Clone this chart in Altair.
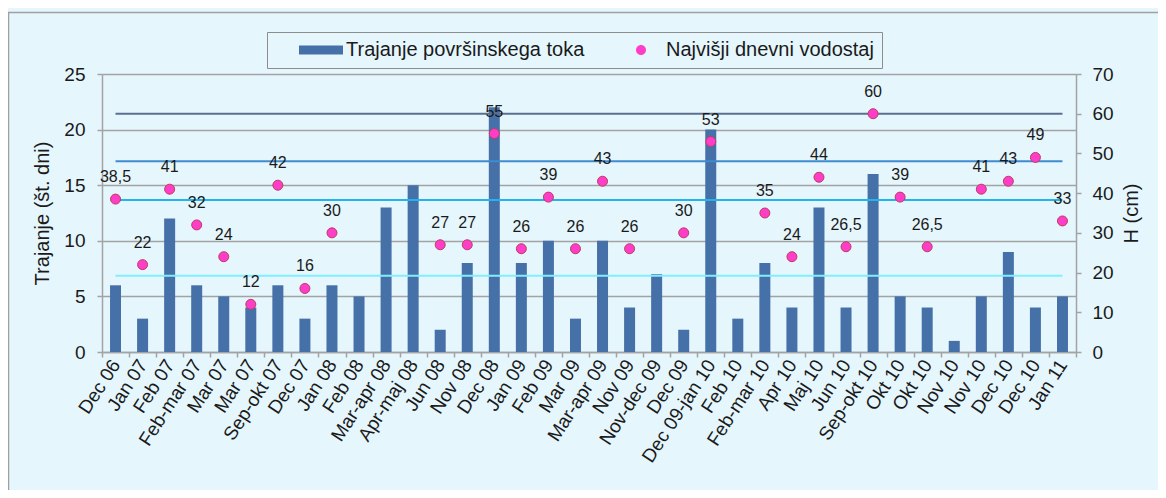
import json
import altair as alt
import pandas as pd

# ---- data ----
labels = ["Dec 06", "Jan 07", "Feb 07", "Feb-mar 07", "Mar 07", "Mar 07", "Sep-okt 07",
          "Dec 07", "Jan 08", "Feb 08", "Mar-apr 08", "Apr-maj 08", "Jun 08", "Nov 08",
          "Dec 08", "Jan 09", "Feb 09", "Mar 09", "Mar-apr 09", "Nov 09", "Nov-dec 09",
          "Dec 09", "Dec 09-jan 10", "Feb 10", "Feb-mar 10", "Apr 10", "Maj 10", "Jun 10",
          "Sep-okt 10", "Okt 10", "Okt 10", "Nov 10", "Nov 10", "Dec 10", "Dec 10", "Jan 11"]
duration = [6, 3, 12, 6, 5, 4, 6, 3, 6, 5, 13, 15, 2, 8, 22, 8, 10, 3, 10, 4, 7, 2, 20, 3,
            8, 4, 13, 4, 16, 5, 4, 1, 5, 9, 4, 5]
water_level = [38.5, 22, 41, 32, 24, 12, 42, 16, 30, None, None, None, 27, 27, 55, 26, 39,
               26, 43, 26, None, 30, 53, None, 35, 24, 44, 26.5, 60, 39, 26.5, None, 41, 43,
               49, 33]
ref_levels = [60, 48, 38.3, 19.2]
ref_colors = ["#5B7090", "#3E8BD0", "#22B4EF", "#80EEFF"]

series_names = ["Trajanje površinskega toka", "Najvišji dnevni vodostaj"]

BAR = "#4671A8"
PINK = "#FF3DC8"
PINK_EDGE = "#B8405E"
BG = "#E5F6FD"
GRID = "#A3A3A3"
TXT = "#1A1A1A"
FONT = "Liberation Sans"

df = pd.DataFrame({"i": list(range(len(labels))), "label": labels,
                   "d": duration, "h": water_level})
df["series"] = series_names[1]

ref_rows = []
for k, (lv, col) in enumerate(zip(ref_levels, ref_colors)):
    for idx in (0, len(labels) - 1):
        ref_rows.append({"i": idx, "level": lv, "line": k, "col": col})
ref_df = pd.DataFrame(ref_rows)

label_expr = json.dumps(labels) + "[datum.value]"

x_enc = alt.X("i:O", title=None,
              scale=alt.Scale(paddingInner=0, paddingOuter=0),
              axis=alt.Axis(labelExpr=label_expr, labelAngle=-57, labelFontSize=19,
                            labelColor=TXT, labelFont=FONT, tickBand="extent",
                            tickSize=5, tickColor=GRID, domainColor=GRID,
                            domainWidth=1.5, tickWidth=1.5, labelPadding=4, grid=False))

right_axis = alt.Axis(orient="right", title="H (cm)", values=list(range(0, 71, 10)),
                      titleAngle=270, titleBaseline="top", titleFontSize=20,
                      titleFont=FONT, titleFontWeight="normal", titleColor=TXT,
                      titlePadding=8, labelFontSize=19, labelFont=FONT, labelColor=TXT,
                      labelPadding=11, tickSize=5, tickColor=GRID, domainColor=GRID,
                      domainWidth=1.5, tickWidth=1.5, grid=False)
right_scale = alt.Scale(domain=[0, 70], nice=False)

bars = alt.Chart(df).mark_bar(size=11, color=BAR).encode(
    x=x_enc,
    y=alt.Y("d:Q", title="Trajanje (št. dni)",
            scale=alt.Scale(domain=[0, 25], nice=False),
            axis=alt.Axis(values=list(range(0, 26, 5)), grid=True, gridColor=GRID,
                          gridWidth=1.5, titleFontSize=20, titleFont=FONT,
                          titleFontWeight="normal", titleColor=TXT, titlePadding=11,
                          labelFontSize=19, labelFont=FONT, labelColor=TXT,
                          labelPadding=12, tickSize=5, tickColor=GRID,
                          domainColor=GRID, domainWidth=1.5, tickWidth=1.5)),
)

lines = alt.Chart(ref_df).mark_line(strokeWidth=2).encode(
    x=x_enc,
    y=alt.Y("level:Q", scale=right_scale, axis=right_axis),
    detail="line:N",
    stroke=alt.Stroke("col:N", scale=None, legend=None),
)

legend = alt.Legend(title=None, orient="none", legendX=165, legendY=-42,
                    direction="horizontal", labelFontSize=20, labelFont=FONT,
                    labelColor=TXT, labelLimit=500, symbolSize=400, symbolOffset=36,
                    labelOffset=15, columnPadding=10, padding=8,
                    strokeColor="#8C8C8C", fillColor=BG, symbolStrokeWidth=0)

rect_path = "M-2.2,-0.45 L2.2,-0.45 L2.2,0.45 L-2.2,0.45 Z"
circ_path = "M-0.5,0 A0.5,0.5 0 1,0 0.5,0 A0.5,0.5 0 1,0 -0.5,0 Z"

points = alt.Chart(df).transform_filter("isValid(datum.h)").mark_point(
    filled=True, size=400, stroke=PINK_EDGE, strokeWidth=1, opacity=1).encode(
    x=x_enc,
    y=alt.Y("h:Q", scale=right_scale, axis=right_axis),
    color=alt.Color("series:N", scale=alt.Scale(domain=series_names, range=[BAR, PINK]),
                    legend=legend),
    shape=alt.Shape("series:N", scale=alt.Scale(domain=series_names,
                                                range=[rect_path, circ_path]),
                    legend=legend),
)

texts = alt.Chart(df).transform_filter("isValid(datum.h)").transform_calculate(
    txt="replace(toString(datum.h), '.', ',')"
).mark_text(dy=-17, baseline="alphabetic", fontSize=16, font=FONT, color=TXT).encode(
    x=x_enc,
    y=alt.Y("h:Q", scale=right_scale, axis=right_axis),
    text="txt:N",
)

frame = alt.Chart(alt.Data(values=[{}])).mark_rect(
    fill=None, stroke="#A0A0A0", strokeWidth=1.5, clip=False).encode(
    x=alt.value(-93.5), y=alt.value(-61.5), x2=alt.value(1300), y2=alt.value(700))

right_layer = alt.layer(lines, points, texts)

chart = alt.layer(frame, bars, right_layer).resolve_scale(
    y="independent"
).properties(
    width=974, height=278,
    padding={"left": 94, "top": 66, "right": 82, "bottom": 138},
    autosize=alt.AutoSizeParams(type="none"),
    background=BG,
).configure_view(stroke=None, fill=BG)

chart.save("out.html", embed_options={"renderer": "svg", "actions": False})
